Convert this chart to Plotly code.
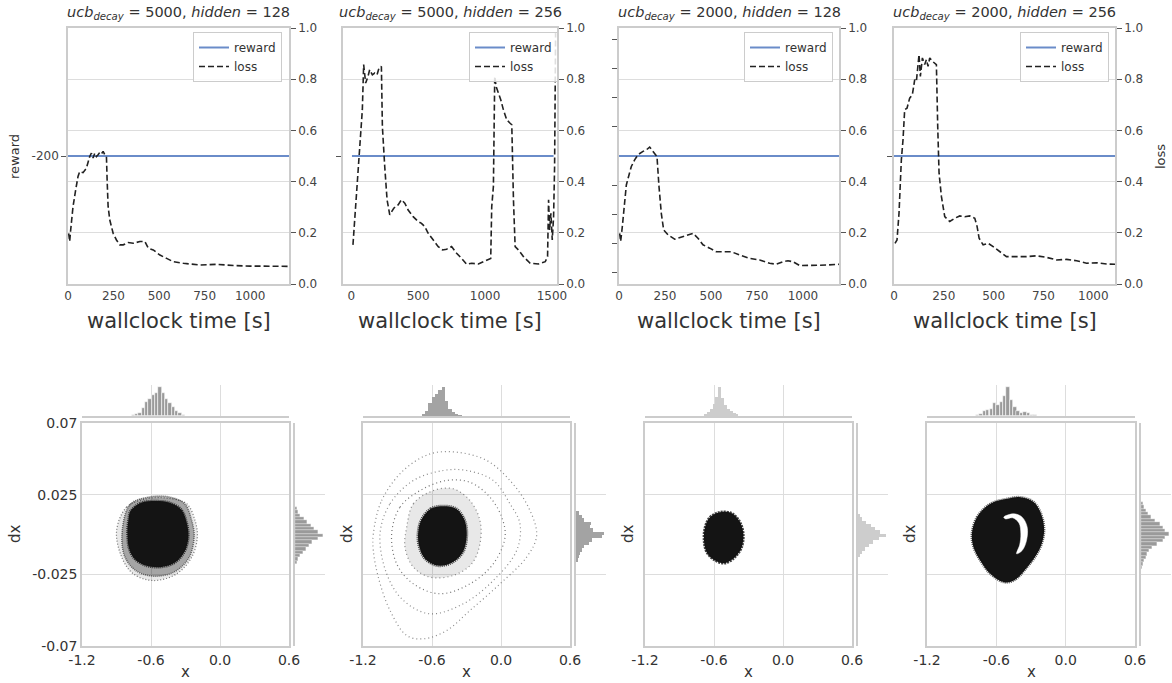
import plotly.graph_objects as go

W, H = 1172, 683

# ---------------- data: top row (reward / loss vs wallclock time) ----------------
titles = [
    "<i>ucb</i><sub><i>decay</i></sub> = 5000, <i>hidden</i> = 128",
    "<i>ucb</i><sub><i>decay</i></sub> = 5000, <i>hidden</i> = 256",
    "<i>ucb</i><sub><i>decay</i></sub> = 2000, <i>hidden</i> = 128",
    "<i>ucb</i><sub><i>decay</i></sub> = 2000, <i>hidden</i> = 256",
]
time_ticks_a = [0, 250, 500, 750, 1000]
time_ticks_b = [0, 500, 1000, 1500]
loss_ticks = [0.0, 0.2, 0.4, 0.6, 0.8, 1.0]
loss_ticktext = ["0.0", "0.2", "0.4", "0.6", "0.8", "1.0"]
reward_level = -200

reward_t1 = [0, 1213]
reward_t2 = [5, 1512]
reward_t3 = [0, 1196]
reward_t4 = [0, 1109]

loss_t1 = [3.7, 9.2, 14.7, 27.5, 42.2, 55, 64.2, 82.6, 100.9, 110, 119.3, 128.4, 137.6, 146.8, 156, 165.1,
           174.3, 183.5, 192.7, 201.8, 211, 214.7, 220.2, 229.4, 247.7, 266, 284.4, 302.8, 330.3, 357.8,
           394.5, 422, 440.4, 467.9, 504.6, 541.3, 578, 633, 724.8, 816.5, 908.3, 1000, 1091.7, 1212.8]
loss_v1 = [0.198, 0.166, 0.211, 0.302, 0.368, 0.42, 0.439, 0.435, 0.452, 0.478, 0.498, 0.511, 0.492, 0.511,
           0.498, 0.505, 0.514, 0.508, 0.518, 0.505, 0.498, 0.407, 0.302, 0.25, 0.198, 0.172, 0.153, 0.153,
           0.162, 0.159, 0.166, 0.166, 0.14, 0.133, 0.113, 0.1, 0.087, 0.081, 0.074, 0.077, 0.072, 0.07,
           0.07, 0.069]

loss_t2 = [12.5, 37.5, 62.5, 82.5, 92.5, 107.5, 125, 137.5, 157.5, 175, 192.5, 207.5, 225, 232.5, 250,
           267.5, 287.5, 317.5, 350, 375, 400, 425, 462.5, 500, 525, 550, 575, 612.5, 650, 682.5, 712.5,
           750, 787.5, 825, 862.5, 900, 950, 987.5, 1025, 1042.5, 1050, 1062.5, 1072.5, 1082.5, 1100,
           1117.5, 1137.5, 1162.5, 1187.5, 1200, 1212.5, 1225, 1250, 1287.5, 1337.5, 1400, 1450, 1467.5,
           1475, 1482.5, 1492.5, 1502.5, 1512.5, 1520, 1527.5]
loss_v2 = [0.153, 0.329, 0.524, 0.68, 0.857, 0.785, 0.811, 0.837, 0.817, 0.824, 0.817, 0.844, 0.85, 0.615,
           0.459, 0.329, 0.27, 0.296, 0.309, 0.329, 0.316, 0.289, 0.263, 0.244, 0.237, 0.224, 0.198, 0.172,
           0.146, 0.133, 0.136, 0.146, 0.12, 0.1, 0.077, 0.081, 0.078, 0.087, 0.096, 0.1, 0.302, 0.381,
           0.811, 0.772, 0.746, 0.72, 0.68, 0.641, 0.628, 0.622, 0.329, 0.146, 0.133, 0.107, 0.081, 0.078,
           0.087, 0.107, 0.329, 0.211, 0.276, 0.172, 0.263, 0.459, 0.98]

loss_t3 = [3.6, 9, 18, 30.8, 39.9, 54.3, 67, 85.1, 103.3, 130.4, 148.6, 166.7, 184.8, 206.5, 217.4, 230,
           242.8, 266.3, 302.5, 338.8, 375, 402.2, 429.3, 456.5, 492.8, 529, 565.2, 610.5, 655.8, 710.1,
           764.5, 818.8, 855, 891.3, 918.5, 945.7, 981.9, 1054.3, 1126.8, 1195.7]
loss_v3 = [0.198, 0.166, 0.224, 0.329, 0.387, 0.426, 0.459, 0.485, 0.505, 0.518, 0.524, 0.535, 0.518,
           0.498, 0.381, 0.276, 0.211, 0.192, 0.175, 0.183, 0.192, 0.198, 0.179, 0.153, 0.14, 0.126, 0.126,
           0.126, 0.113, 0.1, 0.094, 0.081, 0.077, 0.087, 0.091, 0.087, 0.072, 0.072, 0.074, 0.077]

loss_t4 = [5, 15.1, 25.1, 36.9, 45.2, 53.6, 65.3, 78.7, 92.1, 103.9, 112.2, 120.6, 125.6, 132.3, 142.4,
           154.1, 162.5, 170.9, 179.2, 192.6, 204.4, 212.7, 219.4, 226.1, 237.9, 254.6, 279.7, 304.9, 330,
           355.1, 380.2, 405.4, 417.1, 427.1, 447.2, 472.4, 497.5, 531, 564.5, 614.7, 665, 715.2, 765.5,
           815.7, 866, 916.2, 966.5, 1016.8, 1067, 1108.9]
loss_v4 = [0.159, 0.172, 0.276, 0.485, 0.563, 0.681, 0.687, 0.726, 0.739, 0.798, 0.791, 0.844, 0.896,
           0.811, 0.883, 0.857, 0.876, 0.85, 0.883, 0.87, 0.863, 0.857, 0.615, 0.433, 0.342, 0.263, 0.244,
           0.257, 0.266, 0.263, 0.266, 0.257, 0.224, 0.179, 0.153, 0.159, 0.146, 0.126, 0.107, 0.107,
           0.107, 0.11, 0.104, 0.094, 0.096, 0.091, 0.081, 0.083, 0.078, 0.077]

# ---------------- data: bottom row (state-space joint plots) ----------------
x_ticks = [-1.2, -0.6, 0.0, 0.6]
x_ticktext = ["-1.2", "-0.6", "0.0", "0.6"]
dx_ticks = [-0.07, -0.025, 0.025, 0.07]
dx_ticktext = ["-0.07", "-0.025", "0.025", "0.07"]

# panel 1: dense core, speckled band and sparse halo outline
core1_x = [-0.78, -0.69, -0.56, -0.43, -0.335, -0.29, -0.275, -0.31, -0.395, -0.52, -0.645, -0.74, -0.79, -0.805, -0.795]
core1_y = [0.0145, 0.0198, 0.021, 0.0198, 0.0155, 0.0075, -0.0017, -0.011, -0.0178, -0.0205, -0.0195, -0.0155, -0.009, 0.0025, 0.0095]
band1_x = [-0.85, -0.78, -0.62, -0.46, -0.31, -0.245, -0.225, -0.27, -0.39, -0.57, -0.73, -0.83]
band1_y = [0.0025, 0.019, 0.0235, 0.0238, 0.0195, 0.0085, -0.0017, -0.0145, -0.0232, -0.0262, -0.0228, -0.0135]
halo1_x = [-0.899, -0.812, -0.638, -0.464, -0.29, -0.217, -0.197, -0.246, -0.377, -0.58, -0.754, -0.855]
halo1_y = [0.0025, 0.0172, 0.0224, 0.0228, 0.0193, 0.0088, -0.0017, -0.0142, -0.0247, -0.0289, -0.0247, -0.0142]

# panel 2: core, speckled fringe and three sparse orbit rings
core2_x = [-0.69, -0.61, -0.501, -0.39, -0.32, -0.298, -0.33, -0.425, -0.55, -0.66, -0.715, -0.718]
core2_y = [0.0095, 0.0162, 0.0178, 0.0162, 0.0095, 0.0004, -0.0108, -0.0175, -0.0195, -0.0152, -0.0062, 0.0025]
fringe2_x = [-0.82, -0.762, -0.588, -0.415, -0.27, -0.183, -0.183, -0.255, -0.415, -0.617, -0.762, -0.835]
fringe2_y = [0.0046, 0.0193, 0.0276, 0.0287, 0.0213, 0.0088, -0.0059, -0.0184, -0.0257, -0.0268, -0.0205, -0.008]
ringA2_x = [-1.11, -1.038, -0.849, -0.617, -0.386, -0.125, 0.078, 0.238, 0.31, 0.223, -0.009, -0.27, -0.473, -0.675, -0.82, -0.965, -1.067, -1.11]
ringA2_y = [0.0004, 0.0213, 0.0402, 0.0506, 0.0517, 0.0465, 0.0339, 0.0172, -0.0006, -0.0142, -0.031, -0.0477, -0.0603, -0.0655, -0.0634, -0.0477, -0.0268, -0.0101]
ringB2_x = [-1.052, -0.965, -0.762, -0.501, -0.299, -0.067, 0.078, 0.165, 0.136, -0.067, -0.328, -0.617, -0.849, -0.994]
ringB2_y = [0.0004, 0.0193, 0.0339, 0.0402, 0.0402, 0.0339, 0.0193, 0.0067, -0.0101, -0.0289, -0.0435, -0.0498, -0.0414, -0.0247]
ringC2_x = [-0.951, -0.878, -0.704, -0.473, -0.27, -0.096, 0.006, 0.035, -0.067, -0.27, -0.53, -0.762, -0.907]
ringC2_y = [0.0004, 0.0172, 0.0276, 0.0339, 0.0328, 0.0234, 0.0109, -0.0017, -0.0184, -0.031, -0.0372, -0.031, -0.0184]

# panel 3: compact core
core3_x = [-0.678, -0.635, -0.548, -0.446, -0.374, -0.345, -0.359, -0.417, -0.504, -0.591, -0.664, -0.687]
core3_y = [0.0046, 0.0109, 0.014, 0.0134, 0.0078, 0.0004, -0.008, -0.0142, -0.018, -0.0163, -0.0111, -0.0038]

# panel 4: swirl core with a white crescent inside
core4_x = [-0.812, -0.768, -0.652, -0.507, -0.391, -0.275, -0.203, -0.188, -0.232, -0.333, -0.449, -0.536, -0.652, -0.739, -0.797]
core4_y = [0.0004, 0.0109, 0.0193, 0.0224, 0.0234, 0.0203, 0.0109, 0.0004, -0.0101, -0.0205, -0.0289, -0.0299, -0.0247, -0.0163, -0.008]
gap4_x = [-0.536, -0.449, -0.377, -0.333, -0.339, -0.377, -0.425, -0.398, -0.388, -0.404, -0.46, -0.52]
gap4_y = [0.0109, 0.013, 0.0109, 0.0046, -0.0038, -0.0101, -0.0121, -0.0065, 0.0004, 0.0072, 0.0105, 0.0098]

# marginal histograms (relative heights)
hx1_c = [-0.754, -0.725, -0.696, -0.667, -0.638, -0.609, -0.58, -0.551, -0.522, -0.493, -0.464, -0.435, -0.406, -0.377, -0.348, -0.319]
hx1_h = [0.03, 0.06, 0.12, 0.28, 0.5, 0.6, 0.74, 0.8, 1.0, 0.8, 0.6, 0.45, 0.3, 0.18, 0.09, 0.04]
hy1_c = [0.0162, 0.0141, 0.012, 0.0099, 0.0078, 0.0057, 0.0036, 0.0015, -0.0006, -0.0027, -0.0048, -0.0069, -0.009, -0.0111, -0.0132, -0.0153, -0.0174]
hy1_h = [0.06, 0.12, 0.19, 0.31, 0.44, 0.56, 0.69, 0.81, 1.0, 0.81, 0.62, 0.5, 0.38, 0.28, 0.19, 0.12, 0.06]

hx2_c = [-0.675, -0.646, -0.617, -0.588, -0.559, -0.53, -0.501, -0.472, -0.443, -0.414, -0.385, -0.356]
hx2_h = [0.06, 0.17, 0.46, 0.67, 0.75, 0.9, 1.0, 0.52, 0.25, 0.14, 0.07, 0.03]
hy2_c = [0.0134, 0.0113, 0.0092, 0.0071, 0.005, 0.0029, 0.0008, -0.0013, -0.0034, -0.0055, -0.0076, -0.0097, -0.0118, -0.0139, -0.016]
hy2_h = [0.12, 0.22, 0.3, 0.55, 0.5, 0.6, 1.0, 0.92, 0.58, 0.46, 0.3, 0.2, 0.14, 0.09, 0.05]

hx3_c = [-0.675, -0.65, -0.625, -0.6, -0.575, -0.55, -0.525, -0.5, -0.475, -0.45, -0.425, -0.4]
hx3_h = [0.06, 0.13, 0.24, 0.42, 0.66, 1.0, 0.62, 0.4, 0.25, 0.16, 0.09, 0.04]
hy3_c = [0.0119, 0.0098, 0.0077, 0.0056, 0.0036, 0.0015, -0.0006, -0.0027, -0.0048, -0.0069, -0.009, -0.0111, -0.0132]
hy3_h = [0.08, 0.15, 0.28, 0.45, 0.6, 0.8, 1.0, 0.75, 0.55, 0.38, 0.25, 0.15, 0.08]

hx4_c = [-0.762, -0.732, -0.703, -0.674, -0.644, -0.615, -0.586, -0.556, -0.527, -0.498, -0.469, -0.44, -0.411, -0.381, -0.352, -0.323, -0.293, -0.264]
hx4_h = [0.03, 0.08, 0.16, 0.22, 0.25, 0.45, 0.38, 0.48, 0.68, 1.0, 0.55, 0.3, 0.18, 0.12, 0.14, 0.1, 0.05, 0.02]
hy4_c = [0.0193, 0.0172, 0.0151, 0.013, 0.0109, 0.0088, 0.0067, 0.0046, 0.0025, 0.0004, -0.0017, -0.0038, -0.0059, -0.008, -0.0101, -0.0122, -0.0143, -0.0164, -0.0185, -0.0206]
hy4_h = [0.06, 0.12, 0.18, 0.25, 0.37, 0.5, 0.67, 0.8, 0.87, 1.0, 0.88, 0.8, 0.58, 0.38, 0.27, 0.22, 0.17, 0.12, 0.08, 0.05]

# ---------------- layout geometry (pixels) ----------------
TOP_X = [(68, 289), (343, 557), (619, 839), (894, 1115)]
TOP_Y = (28, 284)
BOT_X = [(82, 289), (363, 570), (645, 852), (927, 1135)]
BOT_Y = (423, 646)
MX_Y = (385, 416)
MY_X = [(295, 325), (576, 606), (858, 888), (1141, 1171)]
time_ranges = [[0, 1213], [-62, 1538], [0, 1196], [0, 1109]]
time_ticks = [time_ticks_a, time_ticks_b, time_ticks_a, time_ticks_a]
legend_right = [282, 558, 833, 1109]

GRID = "#dddddd"
SPINE = "#cccccc"
TXT = "#333333"
BLUE = "#6a8cc9"
FONT = "DejaVu Sans"


def fx(p):
    return p / W


def fy(p):
    return 1 - p / H


def axname(kind, n):
    return f"{kind}axis" if n == 1 else f"{kind}axis{n}"


def ref(kind, n):
    return kind if n == 1 else f"{kind}{n}"


fig = go.Figure()
layout = dict(
    template="none",
    width=W, height=H, margin=dict(l=0, r=0, t=0, b=0, pad=0, autoexpand=False),
    paper_bgcolor="white", plot_bgcolor="white",
    font=dict(family=FONT, color=TXT),
    showlegend=True,
)
annotations = []

reward_ts = [reward_t1, reward_t2, reward_t3, reward_t4]
loss_ts = [loss_t1, loss_t2, loss_t3, loss_t4]
loss_vs = [loss_v1, loss_v2, loss_v3, loss_v4]
reward_tick_sets = [
    [-200],
    [-200],
    [-190.88, -193.16, -195.44, -197.72, -202.28, -204.56, -206.84, -209.12],
    [-200],
]

# ---------------- top row ----------------
for i in range(4):
    xn = i + 1
    yr = i + 1
    yl = i + 5
    lg = "legend" if i == 0 else f"legend{i + 1}"
    xd = [fx(TOP_X[i][0]), fx(TOP_X[i][1])]
    yd = [fy(TOP_Y[1]), fy(TOP_Y[0])]
    layout[axname("x", xn)] = dict(
        domain=xd, anchor=ref("y", yr), range=time_ranges[i], tickvals=time_ticks[i],
        showgrid=False, zeroline=False, showline=True, mirror=True, linecolor=SPINE, linewidth=1.5,
        ticks="", tickfont=dict(size=12, color="#444444"), automargin=False,
    )
    layout[axname("y", yr)] = dict(
        domain=yd, anchor=ref("x", xn), range=[-210, -190], tickvals=reward_tick_sets[i],
        ticktext=["-200"] if i == 0 else None, showticklabels=(i == 0),
        showgrid=False, zeroline=False, showline=True, linecolor=SPINE, linewidth=1.5,
        ticks="outside", ticklen=5, tickcolor="#555555", tickwidth=1,
        tickfont=dict(size=12, color="#444444"), automargin=False,
    )
    layout[axname("y", yl)] = dict(
        overlaying=ref("y", yr), anchor=ref("x", xn), side="right", range=[0, 1.0],
        tickvals=loss_ticks, ticktext=loss_ticktext, showgrid=True, gridcolor=GRID, gridwidth=1,
        zeroline=False, showline=True, linecolor=SPINE, linewidth=1.5,
        ticks="outside", ticklen=5, tickcolor="#555555", tickwidth=1,
        tickfont=dict(size=12, color="#444444"), automargin=False,
    )
    fig.add_trace(go.Scatter(
        x=reward_ts[i], y=[reward_level] * len(reward_ts[i]), mode="lines", name="reward",
        line=dict(color=BLUE, width=2), xaxis=ref("x", xn), yaxis=ref("y", yr), legend=lg,
        hoverinfo="skip",
    ))
    fig.add_trace(go.Scatter(
        x=loss_ts[i], y=loss_vs[i], mode="lines", name="loss",
        line=dict(color="#222222", width=1.6, dash="6px,3px"), xaxis=ref("x", xn), yaxis=ref("y", yl),
        legend=lg, hoverinfo="skip",
    ))
    layout[lg] = dict(
        x=fx(legend_right[i]), y=fy(32), xref="paper", yref="paper", xanchor="right", yanchor="top",
        bgcolor="rgba(255,255,255,0.85)", bordercolor=SPINE, borderwidth=1,
        font=dict(size=12, color=TXT, family=FONT), itemwidth=30, tracegroupgap=0,
    )
    cx = (TOP_X[i][0] + TOP_X[i][1]) / 2
    annotations.append(dict(text=titles[i], x=fx(cx), y=fy(13), xref="paper", yref="paper",
                            showarrow=False, font=dict(size=14.5, color=TXT), xanchor="center", yanchor="middle"))
    annotations.append(dict(text="wallclock time [s]", x=fx(cx), y=fy(321), xref="paper", yref="paper",
                            showarrow=False, font=dict(size=21, color=TXT), xanchor="center", yanchor="middle"))

annotations.append(dict(text="reward", x=fx(14), y=fy(157), xref="paper", yref="paper", textangle=-90,
                        showarrow=False, font=dict(size=13, color=TXT), xanchor="center", yanchor="middle"))
annotations.append(dict(text="loss", x=fx(1160), y=fy(157), xref="paper", yref="paper", textangle=-90,
                        showarrow=False, font=dict(size=13, color=TXT), xanchor="center", yanchor="middle"))

# ---------------- bottom row ----------------
hx_c = [hx1_c, hx2_c, hx3_c, hx4_c]
hx_h = [hx1_h, hx2_h, hx3_h, hx4_h]
hy_c = [hy1_c, hy2_c, hy3_c, hy4_c]
hy_h = [hy1_h, hy2_h, hy3_h, hy4_h]
hx_w = [0.029, 0.029, 0.025, 0.0295]
hist_col = ["#9a9a9a", "#a3a3a3", "#cdcdcd", "#9a9a9a"]
hist_edge = [0.6, 0.0, 0.0, 0.6]
dx_label_x = [15, 347, 628, 910]


def closed(v):
    return list(v) + [v[0]]


for i in range(4):
    mx, my = 5 + i, 9 + i        # main axes
    tx, ty = 9 + i, 13 + i       # top marginal axes
    rx, ry = 13 + i, 17 + i      # right marginal axes
    xd = [fx(BOT_X[i][0]), fx(BOT_X[i][1])]
    yd = [fy(BOT_Y[1]), fy(BOT_Y[0])]
    layout[axname("x", mx)] = dict(
        domain=xd, anchor=ref("y", my), range=[-1.2, 0.6], tickvals=x_ticks, ticktext=x_ticktext,
        showgrid=True, gridcolor=GRID, zeroline=False, showline=True, mirror=True, linecolor=SPINE,
        linewidth=1.5, ticks="", tickfont=dict(size=14, color=TXT), automargin=False,
    )
    layout[axname("y", my)] = dict(
        domain=yd, anchor=ref("x", mx), range=[-0.07, 0.07], tickvals=dx_ticks,
        ticktext=dx_ticktext if i == 0 else None,
        showticklabels=(i == 0), showgrid=True, gridcolor=GRID, zeroline=False, showline=True,
        mirror=True, linecolor=SPINE, linewidth=1.5, ticks="", tickfont=dict(size=14, color=TXT),
        automargin=False,
    )
    # top marginal
    layout[axname("x", tx)] = dict(
        domain=xd, anchor=ref("y", ty), range=[-1.2, 0.6], tickvals=[-0.6, 0.0], showticklabels=False,
        showgrid=True, gridcolor=GRID, zeroline=False, showline=True, linecolor=SPINE, linewidth=1.5, ticks="",
        automargin=False,
    )
    layout[axname("y", ty)] = dict(
        domain=[fy(MX_Y[1]), fy(MX_Y[0])], anchor=ref("x", tx), range=[0, 1.08], visible=False,
    )
    # right marginal
    layout[axname("x", rx)] = dict(
        domain=[fx(MY_X[i][0]), fx(MY_X[i][1])], anchor=ref("y", ry), range=[0, 1.08], visible=False,
    )
    layout[axname("y", ry)] = dict(
        domain=yd, anchor=ref("x", rx), range=[-0.07, 0.07], tickvals=[-0.025, 0.025, 0.07],
        showticklabels=False, showgrid=True, gridcolor=GRID, zeroline=False, showline=True,
        linecolor=SPINE, linewidth=1.5, ticks="", automargin=False,
    )

    fig.add_trace(go.Bar(
        x=hx_c[i], y=hx_h[i], width=hx_w[i], marker=dict(color=hist_col[i], line=dict(color="white", width=hist_edge[i])),
        xaxis=ref("x", tx), yaxis=ref("y", ty), showlegend=False, hoverinfo="skip",
    ))
    fig.add_trace(go.Bar(
        y=hy_c[i], x=hy_h[i], width=0.0021, orientation="h",
        marker=dict(color=hist_col[i], line=dict(color="white", width=hist_edge[i] * 0.5)),
        xaxis=ref("x", rx), yaxis=ref("y", ry), showlegend=False, hoverinfo="skip",
    ))

    annotations.append(dict(text="dx", x=fx(dx_label_x[i]), y=fy(534), xref="paper", yref="paper", textangle=-90,
                            showarrow=False, font=dict(size=15, color=TXT), xanchor="center", yanchor="middle"))
    annotations.append(dict(text="x", x=fx((BOT_X[i][0] + BOT_X[i][1]) / 2), y=fy(672), xref="paper", yref="paper",
                            showarrow=False, font=dict(size=15, color=TXT), xanchor="center", yanchor="middle"))


def xs(i):
    return ref("x", 5 + i)


def ys(i):
    return ref("y", 9 + i)


def ring(x, y, i, alpha=0.55):
    fig.add_trace(go.Scatter(
        x=closed(x), y=closed(y), mode="lines",
        line=dict(color=f"rgba(40,40,40,{alpha})", width=1.2, dash="1px,3px", shape="spline"),
        xaxis=xs(i), yaxis=ys(i), showlegend=False, hoverinfo="skip",
    ))


def blob(x, y, i, fill, edge, dash="solid", width=1):
    fig.add_trace(go.Scatter(
        x=closed(x), y=closed(y), mode="lines", fill="toself", fillcolor=fill,
        line=dict(color=edge, width=width, dash=dash, shape="spline"),
        xaxis=xs(i), yaxis=ys(i), showlegend=False, hoverinfo="skip",
    ))


# panel 1
blob(halo1_x, halo1_y, 0, "rgba(30,30,30,0.10)", "rgba(30,30,30,0.6)", dash="1px,2px", width=1.2)
blob(band1_x, band1_y, 0, "rgba(25,25,25,0.32)", "rgba(25,25,25,0.6)", dash="1px,1px", width=1.5)
blob(core1_x, core1_y, 0, "#141414", "rgba(20,20,20,0.85)", dash="1px,1px", width=2.5)
# panel 2
ring(ringA2_x, ringA2_y, 1)
ring(ringB2_x, ringB2_y, 1)
ring(ringC2_x, ringC2_y, 1, alpha=0.65)
blob(fringe2_x, fringe2_y, 1, "rgba(30,30,30,0.10)", "rgba(30,30,30,0.5)", dash="1px,3px", width=1.2)
blob(core2_x, core2_y, 1, "#141414", "rgba(20,20,20,0.8)", dash="1px,1px", width=3)
# panel 3
blob(core3_x, core3_y, 2, "#141414", "rgba(20,20,20,0.8)", dash="2px,1px", width=2.5)
# panel 4
blob(core4_x, core4_y, 3, "#141414", "rgba(20,20,20,0.7)", dash="1px,1px", width=2.5)
blob(gap4_x, gap4_y, 3, "white", "white", width=0.5)

layout["annotations"] = annotations
layout["bargap"] = 0
fig.update_layout(**layout)
fig.write_html("out.html")
